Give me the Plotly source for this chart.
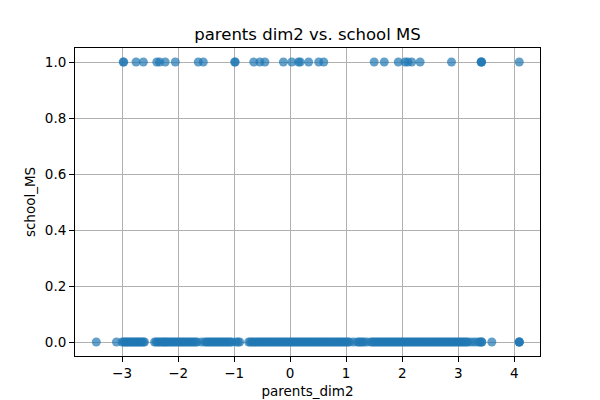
import plotly.graph_objects as go

# parents_dim2 values for students with school_MS = 1
ms_x = [-2.98, -2.97, -2.75, -2.62, -2.38, -2.33, -2.23, -2.05, -1.64, -1.55,
        -0.99, -0.98, -0.65, -0.54, -0.45, -0.12, 0.03, 0.15, 0.18, 0.33,
        0.51, 0.6, 1.5, 1.68, 1.93, 2.05, 2.1, 2.17, 2.32, 2.88,
        3.41, 3.41, 3.42, 4.09]

# parents_dim2 values for students with school_MS = 0
gp_x = [-3.46, -3.1, -3.0, -2.95, -2.9, -2.85, -2.8, -2.75, -2.7, -2.65,
        -2.6, -2.42, -2.36, -2.3, -2.25, -2.2, -2.14, -2.08, -2.02, -1.96,
        -1.9, -1.84, -1.78, -1.72, -1.66, -1.58, -1.52, -1.46, -1.4, -1.34,
        -1.28, -1.22, -1.16, -1.1, -1.04, -0.97, -0.9, -0.74, -0.68, -0.62,
        -0.56, -0.5, -0.44, -0.38, -0.32, -0.26, -0.2, -0.14, -0.08, -0.02,
        0.04, 0.1, 0.16, 0.22, 0.28, 0.34, 0.4, 0.46, 0.52, 0.58,
        0.64, 0.7, 0.76, 0.82, 0.88, 0.94, 1.0, 1.06, 1.13, 1.2,
        1.26, 1.32, 1.37, 1.44, 1.5, 1.56, 1.62, 1.68, 1.74, 1.8,
        1.86, 1.92, 1.98, 2.04, 2.1, 2.16, 2.22, 2.28, 2.34, 2.4,
        2.46, 2.52, 2.58, 2.64, 2.7, 2.76, 2.82, 2.88, 2.94, 3.0,
        3.06, 3.12, 3.18, 3.24, 3.3, 3.36, 3.42, 3.6, 4.09, 4.09, 4.09,
        -2.97, -2.92, -2.87, -2.82, -2.77, -2.72, -2.67, -2.62, -2.39, -2.33,
        -2.27, -2.22, -2.17, -2.11, -2.05, -1.99, -1.93, -1.87, -1.81, -1.75,
        -1.69, -1.49, -1.43, -1.37, -1.31, -1.25, -1.19, -1.13, -1.07, -0.93,
        -0.71, -0.65, -0.59, -0.53, -0.47, -0.41, -0.35, -0.29, -0.23, -0.17,
        -0.11, -0.05, 0.01, 0.07, 0.13, 0.19, 0.25, 0.31, 0.37, 0.43,
        0.49, 0.55, 0.61, 0.67, 0.73, 0.79, 0.85, 0.91, 0.97, 1.03,
        1.23, 1.29, 1.47, 1.53, 1.59, 1.65, 1.71, 1.77, 1.83, 1.89,
        1.95, 2.01, 2.07, 2.13, 2.19, 2.25, 2.31, 2.37, 2.43, 2.49,
        2.55, 2.61, 2.67, 2.73, 2.79, 2.85, 2.91, 2.97, 3.03, 3.09,
        3.15, 3.39, 3.42]

x = ms_x + gp_x
y = [1] * len(ms_x) + [0] * len(gp_x)

fig = go.Figure()
fig.add_trace(go.Scatter(
    x=x, y=y, mode="markers",
    marker=dict(color="#1f77b4", size=9, opacity=0.7, line=dict(width=0)),
    showlegend=False,
))

axis_common = dict(
    showline=True, linecolor="black", linewidth=1, mirror=True,
    showgrid=True, gridcolor="#b0b0b0", gridwidth=0.8,
    ticks="outside", ticklen=5, tickcolor="black",
    tickfont=dict(size=13.5, color="black"),
    zeroline=False, automargin=False,
)

# the page body adds an 8px offset, so margins are shifted by that amount
fig.update_layout(
    width=600, height=400,
    margin=dict(l=67, r=68, t=40, b=52),
    paper_bgcolor="white", plot_bgcolor="white",
    font=dict(family="DejaVu Sans", color="black"),
    title=dict(text="parents dim2 vs. school MS", x=0.5, xref="paper",
               y=1 - 26 / 400, yref="container", yanchor="middle",
               automargin=False, font=dict(size=16.5)),
    xaxis=dict(axis_common, range=[-3.84, 4.46], tickvals=[-3, -2, -1, 0, 1, 2, 3, 4],
               title=dict(text="parents_dim2", font=dict(size=13.5), standoff=6)),
    yaxis=dict(axis_common, range=[-0.05, 1.05], tickvals=[0, 0.2, 0.4, 0.6, 0.8, 1.0],
               tickformat=".1f",
               title=dict(text="school_MS", font=dict(size=13.5), standoff=6)),
)

fig.write_html("out.html")
